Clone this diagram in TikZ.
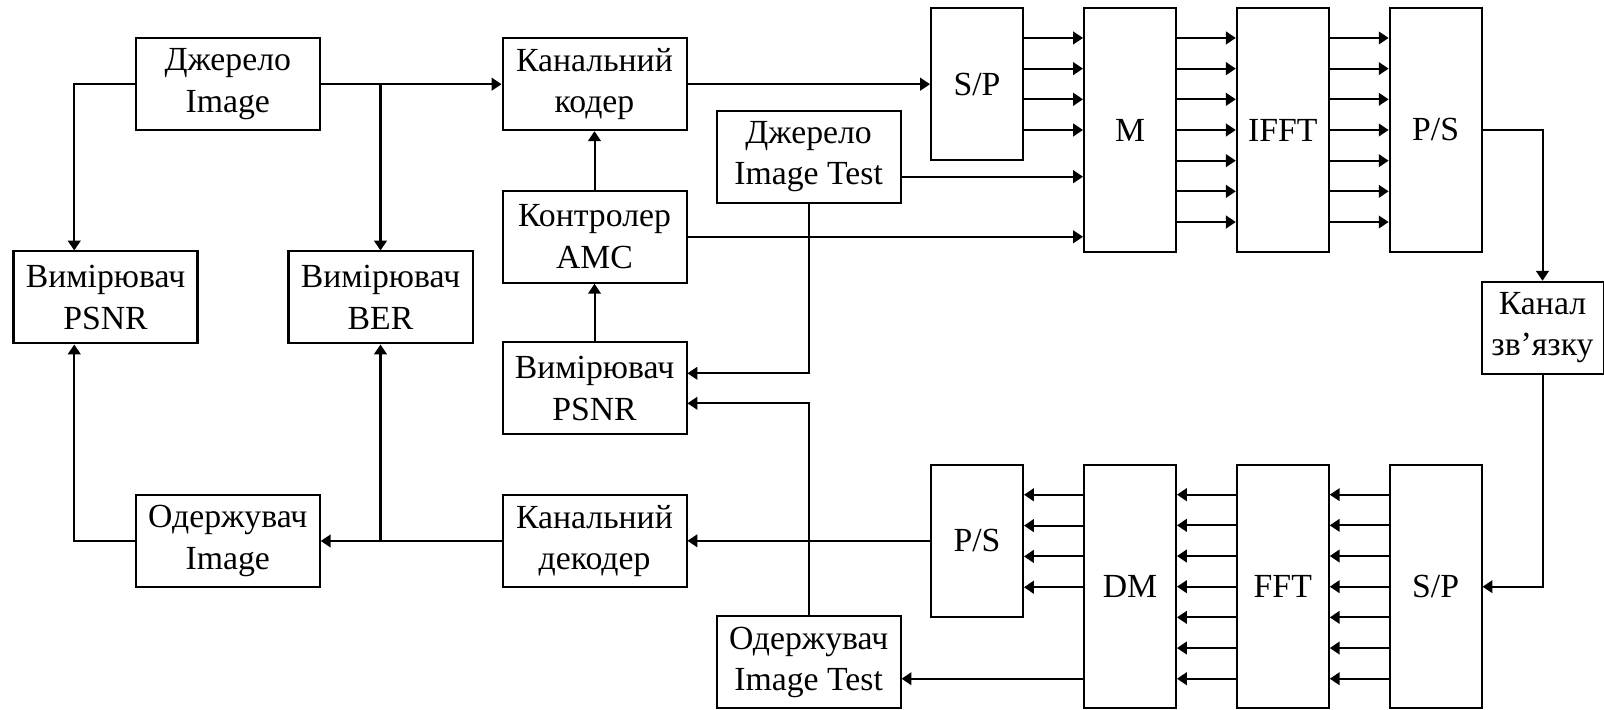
\documentclass[tikz,border=0pt]{standalone}
\usepackage{fontspec}
\setmainfont{Liberation Serif}
\usepackage{tikz}
\usetikzlibrary{arrows.meta, positioning, calc}

\begin{document}
\begin{tikzpicture}[
        blok/.style={draw, line width=0.57pt, minimum width=1.84cm, minimum height=0.92cm,
                     align=center, inner sep=1pt, font=\fontsize{9.6}{11.8}\selectfont},
        vuzkyi/.style={blok, minimum width=0.92cm, minimum height=2.434cm},
        strilka/.style={line width=0.57pt, -{Triangle[length=2.8pt, width=3.6pt]}}
    ]
        % Межі
        \useasboundingbox (0,0) rectangle (16.04,7.10);

        % --- Ліва частина: джерело, вимірювачі, одержувач ---
        \node[blok] (dzherelo) at (2.278,6.258) {Джерело\\Image};
        \node[blok] (psnrL) at (1.055,4.125) {Вимірювач\\PSNR};
        \node[blok] (ber) at (3.805,4.125) {Вимірювач\\BER};
        \node[blok] (oderzh) at (2.278,1.69) {Одержувач\\Image};

        % --- Середня колонка ---
        \node[blok] (koder) at (5.945,6.258) {Канальний\\кодер};
        \node[blok] (amc) at (5.945,4.732) {Контролер\\AMC};
        \node[blok] (psnrM) at (5.945,3.217) {Вимірювач\\PSNR};
        \node[blok] (dekoder) at (5.945,1.69) {Канальний\\декодер};
        \node[blok] (testsrc) at (8.086,5.533) {Джерело\\Image Test};
        \node[blok] (testrcv) at (8.086,0.475) {Одержувач\\Image Test};

        % --- OFDM передавач ---
        \node[vuzkyi, minimum height=1.517cm] (sp1) at (9.77,6.258) {S/P};
        \node[vuzkyi] (mod) at (11.30,5.80) {M};
        \node[vuzkyi] (ifft) at (12.828,5.80) {IFFT};
        \node[vuzkyi] (ps1) at (14.356,5.80) {P/S};

        % --- Канал ---
        \node[blok, minimum width=1.22cm, inner sep=0.5pt] (kanal) at (15.425,3.822) {Канал\\зв’язку};

        % --- OFDM приймач ---
        \node[vuzkyi, minimum height=1.517cm] (ps2) at (9.77,1.692) {P/S};
        \node[vuzkyi] (dm) at (11.30,1.233) {DM};
        \node[vuzkyi] (fft) at (12.828,1.233) {FFT};
        \node[vuzkyi] (sp2) at (14.356,1.233) {S/P};

        % --- Зв'язки зверху ---
        \draw[strilka] (dzherelo.west) -| ($(psnrL.north west)!0.332!(psnrL.north east)$);
        \draw[strilka] (dzherelo.east) -- (dzherelo.east -| koder.west);
        \draw[strilka] (ber.north |- dzherelo.east) -- (ber.north);
        \draw[strilka] (koder.east) -- (koder.east -| sp1.west);
        \draw[strilka] (amc.north) -- (koder.south);
        \draw[strilka] (psnrM.north) -- (amc.south);
        \draw[strilka] (testsrc.south) |- ([yshift=0.15cm]psnrM.east);
        \coordinate (testvyh) at ([yshift=-0.2cm]testsrc.east);
        \draw[strilka] (testvyh) -- (testvyh -| mod.west);
        \draw[strilka] (amc.east) -- (amc.east -| mod.west);

        \foreach \k [evaluate=\k as \f using \k/8] in {1,...,4} {
            \coordinate (vh) at ($(mod.north west)!\f!(mod.south west)$);
            \draw[strilka] (vh -| sp1.east) -- (vh);
        }
        \foreach \k [evaluate=\k as \f using \k/8] in {1,...,7} {
            \coordinate (a) at ($(ifft.north west)!\f!(ifft.south west)$);
            \draw[strilka] (a -| mod.east) -- (a);
            \coordinate (b) at ($(ps1.north west)!\f!(ps1.south west)$);
            \draw[strilka] (b -| ifft.east) -- (b);
        }

        % --- Канал зв'язку ---
        \draw[strilka] (ps1.east) -| (kanal.north);
        \draw[strilka] (kanal.south) |- (sp2.east);

        % --- Зв'язки знизу ---
        \foreach \k [evaluate=\k as \f using \k/8] in {1,...,7} {
            \coordinate (c) at ($(fft.north east)!\f!(fft.south east)$);
            \draw[strilka] (c -| sp2.west) -- (c);
            \coordinate (d) at ($(dm.north east)!\f!(dm.south east)$);
            \draw[strilka] (d -| fft.west) -- (d);
        }
        \foreach \k [evaluate=\k as \f using \k/8] in {1,...,4} {
            \coordinate (e) at ($(ps2.north east)!\f*1.6044!(ps2.south east)$);
            \draw[strilka] (e -| dm.west) -- (e);
        }
        \coordinate (dmvyh) at ($(dm.north west)!0.875!(dm.south west)$);
        \draw[strilka] (dmvyh) -- (dmvyh -| testrcv.east);
        \draw[strilka] (ps2.west) -- (ps2.west -| dekoder.east);
        \draw[strilka] (testrcv.north) |- ([yshift=-0.15cm]psnrM.east);
        \draw[strilka] (dekoder.west) -- (dekoder.west -| oderzh.east);
        \draw[strilka] (ber.south |- dekoder.west) -- (ber.south);
        \draw[strilka] (oderzh.west) -| ($(psnrL.south west)!0.332!(psnrL.south east)$);
    \end{tikzpicture}
\end{document}
